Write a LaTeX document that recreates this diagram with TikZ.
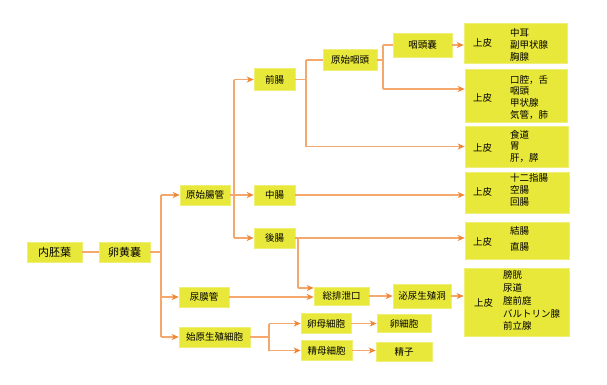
\documentclass[tikz,border=0pt]{standalone}
\usepackage{fontspec}
\newfontfamily\jp{Noto Sans CJK JP}
\usetikzlibrary{arrows.meta,calc}
\definecolor{boxy}{RGB}{232,232,58}
\definecolor{lineo}{RGB}{244,168,110}
\definecolor{tipo}{RGB}{240,135,55}
\tikzset{
  box/.style={fill=boxy, draw=boxy!70!white, line width=0.6pt, inner sep=0pt, font=\jp\fontsize{9.5}{11}\selectfont, text=black},
  bigbox/.style={box, font=\jp\fontsize{11}{13}\selectfont},
  conn/.style={draw=lineo, line width=1.1pt},
  arr/.style={conn, -{Stealth[length=7pt,width=6pt,inset=2pt,color=tipo]}},
  lbl/.style={inner sep=0pt, anchor=west, font=\jp\fontsize{9.5}{11}\selectfont, text=black},
}
\begin{document}
\begin{tikzpicture}[x=1pt,y=-1pt]
\useasboundingbox (0,0) rectangle (607,384);
% boxes
\node[bigbox, minimum width=55, minimum height=20] (ne) at (54.5,252) {内胚葉};
\node[bigbox, minimum width=51, minimum height=20] (ra) at (124.5,252) {卵黄嚢};
\node[box, minimum width=50, minimum height=20] (gc) at (205,195) {原始腸管};
\node[box, minimum width=50, minimum height=20] (nm) at (204,297) {尿膜管};
\node[box, minimum width=71, minimum height=20] (sg) at (214.5,337) {始原生殖細胞};
\node[box, minimum width=41, minimum height=22] (zc) at (274.5,79.5) {前腸};
\node[box, minimum width=41, minimum height=20] (cc) at (274.5,195) {中腸};
\node[box, minimum width=41, minimum height=20] (kc) at (274.5,238) {後腸};
\node[box, minimum width=54, minimum height=21] (ga) at (350,60) {原始咽頭};
\node[box, minimum width=59, minimum height=24] (gn) at (422.5,45) {咽頭嚢};
\node[box, minimum width=55, minimum height=18] (sh) at (341.5,296) {総排泄口};
\node[box, minimum width=58, minimum height=24] (hn) at (422,296) {泌尿生殖洞};
\node[box, minimum width=50, minimum height=20] (rb) at (326,323.5) {卵母細胞};
\node[box, minimum width=54, minimum height=18] (rs) at (404,323.5) {卵細胞};
\node[box, minimum width=51, minimum height=20] (sb) at (326.5,350.5) {精母細胞};
\node[box, minimum width=56, minimum height=19] (sz) at (404,352) {精子};
% epithelium boxes
\node[box, minimum width=103, minimum height=40] (e1) at (515.5,43) {};
\node[box, minimum width=102, minimum height=53] (e2) at (516,95.5) {};
\node[box, minimum width=103, minimum height=41] (e3) at (516.5,146.5) {};
\node[box, minimum width=104, minimum height=41] (e4) at (517,192.5) {};
\node[box, minimum width=104, minimum height=37] (e5) at (517,240.5) {};
\node[box, minimum width=105, minimum height=68] (e6) at (516.5,302) {};
\node[lbl] (u1) at (473,43) {上皮};
\node[lbl] (u2) at (473,98) {上皮};
\node[lbl] (u3) at (473,148) {上皮};
\node[lbl] (u4) at (473,192) {上皮};
\node[lbl] (u5) at (473,242) {上皮};
\node[lbl] (u6) at (474,303) {上皮};
\node[lbl, align=left, font=\jp\fontsize{9.5}{12}\selectfont] (l1) at (510,45) {中耳\\副甲状腺\\胸腺};
\node[lbl, align=left, font=\jp\fontsize{9.5}{11.7}\selectfont] (l2) at (510,97.3) {口腔，舌\\咽頭\\甲状腺\\気管，肺};
\node[lbl, align=left, font=\jp\fontsize{9.5}{11.5}\selectfont] (l3) at (510,146.3) {食道\\胃\\肝，膵};
\node[lbl, align=left, font=\jp\fontsize{9.5}{12}\selectfont] (l4) at (510,190.3) {十二指腸\\空腸\\回腸};
\node[lbl, align=left, font=\jp\fontsize{9.5}{16}\selectfont] (l5) at (510,239) {結腸\\直腸};
\node[lbl, align=left, font=\jp\fontsize{9.5}{12.75}\selectfont] (l6) at (503,300.8) {膀胱\\尿道\\腟前庭\\バルトリン腺\\前立腺};
% trunk coordinates
\coordinate (t1) at (161,252);
\coordinate (t2) at (234,195);
\coordinate (t3) at (306,79.5);
\coordinate (t4) at (383,60);
\coordinate (t4b) at (383,89);
\coordinate (t5) at (298,238);
\coordinate (t5b) at (298,288);
\coordinate (t6) at (269,337);
% connectors
\draw[conn] (ne) -- (ra);
\draw[conn] (ra.east) -- (t1);
\draw[conn] (t1 |- gc) -- (t1 |- sg);
\draw[arr] (t1 |- gc) -- (gc.west);
\draw[arr] (t1 |- nm) -- (nm.west);
\draw[arr] (t1 |- sg) -- (sg.west);
\draw[conn] (gc.east) -- (t2);
\draw[conn] (t2 |- zc) -- (t2 |- kc);
\draw[arr] (t2 |- zc) -- (zc.west);
\draw[arr] (t2) -- (cc.west);
\draw[arr] (t2 |- kc) -- (kc.west);
\draw[conn] (zc.east) -- (t3);
\draw[conn] (t3 |- ga) -- (t3 |- e3);
\draw[conn] (t3 |- ga) -- (ga.west);
\draw[arr] (t3 |- e3) -- (e3.west);
\draw[conn] (ga.east) -- (t4);
\draw[conn] (t4 |- gn) -- (t4b);
\draw[conn] (t4 |- gn) -- (gn.west);
\draw[arr] (t4b) -- (t4b -| e2.west);
\draw[arr] (gn.east) -- (gn.east -| e1.west);
\draw[arr] (cc.east) -- (cc.east -| e4.west);
\draw[arr] (kc.east) -- (kc.east -| e5.west);
\draw[conn] (t5) -- (t5b);
\draw[arr] (t5b) -- (t5b -| sh.west);
\draw[arr] (nm.east) -- (nm.east -| sh.west);
\draw[arr] (sh.east) -- (sh.east -| hn.west);
\draw[arr] (hn.east) -- (hn.east -| e6.west);
\draw[conn] (sg.east) -- (t6);
\draw[conn] (t6 |- rb) -- (t6 |- sb);
\draw[arr] (t6 |- rb) -- (rb.west);
\draw[arr] (t6 |- sb) -- (sb.west);
\draw[arr] (rb.east) -- (rb.east -| rs.west);
\draw[arr] (sb.east) -- (sb.east -| sz.west);
\end{tikzpicture}
\end{document}
